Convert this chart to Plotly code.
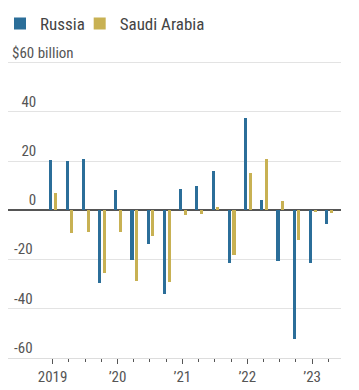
import plotly.graph_objects as go

quarters = ["2019 Q1", "2019 Q2", "2019 Q3", "2019 Q4",
            "2020 Q1", "2020 Q2", "2020 Q3", "2020 Q4",
            "2021 Q1", "2021 Q2", "2021 Q3", "2021 Q4",
            "2022 Q1", "2022 Q2", "2022 Q3", "2022 Q4",
            "2023 Q1", "2023 Q2"]
russia = [20.5, 20.0, 20.9, -29.5, 8.3, -20.3, -13.8, -33.9,
          8.8, 9.8, 16.0, -21.4, 37.5, 4.1, -20.5, -52.2, -21.3, -5.4]
saudi = [7.2, -9.1, -8.7, -25.3, -8.9, -28.6, -10.6, -29.0,
         -1.8, -1.5, 1.5, -18.0, 15.2, 20.7, 3.7, -12.1, -0.8, -1.0]
year_tick_labels = ["2019", "’20", "’21", "’22", "’23"]
y_tick_values = [-60, -40, -20, 0, 20, 40, 60]
y_tick_labels = ["-60", "-40", "-20", "\u2007\u20070", "\u200720", "\u200740", ""]
y_top_label = "$60 billion"

x = list(range(len(quarters)))
year_ticks = [i for i, q in enumerate(quarters) if q.endswith("Q1")]
minor_ticks = sorted(set(x) - set(year_ticks))

FONT = "Liberation Sans Narrow, Arial Narrow, Roboto Condensed, DejaVu Sans Condensed, sans-serif"
BLUE = "#2b6e99"
GOLD = "#c8b153"

fig = go.Figure()
fig.add_trace(go.Bar(x=x, y=russia, name="Russia", marker_color=BLUE,
                     marker_line_width=0, width=0.19, offset=-0.2,
                     legend="legend"))
fig.add_trace(go.Bar(x=x, y=saudi, name="Saudi Arabia", marker_color=GOLD,
                     marker_line_width=0, width=0.19, offset=0.09,
                     legend="legend2"))

fig.add_annotation(text=y_top_label, xref="paper", x=0.005, xanchor="left",
                   yref="y", y=y_tick_values[-1], yanchor="bottom", yshift=-1,
                   showarrow=False, font=dict(size=15, color="#555555"))

legend_common = dict(orientation="h", xref="container", yref="container",
                     xanchor="left", y=0.985, yanchor="top",
                     font=dict(size=17, color="#444444"), itemclick=False,
                     bgcolor="rgba(0,0,0,0)")

fig.update_layout(
    width=359, height=390,
    margin=dict(l=8, r=18, t=43, b=32, autoexpand=False),
    paper_bgcolor="white", plot_bgcolor="white",
    font=dict(family=FONT, color="#555555", size=15),
    showlegend=True,
    legend=dict(x=0.0, **legend_common),
    legend2=dict(x=0.222, **legend_common),
    bargap=0,
)
fig.update_xaxes(
    range=[-2.75, 17.78], automargin=False,
    tickmode="array", tickvals=year_ticks, ticktext=year_tick_labels,
    ticks="outside", ticklen=5, tickcolor="#555555", tickwidth=1,
    minor=dict(tickmode="array", tickvals=minor_ticks, ticks="outside",
               ticklen=3, tickcolor="#555555", tickwidth=1),
    showline=True, linecolor="#dddddd", linewidth=1,
    showgrid=False, zeroline=False,
    tickfont=dict(size=15, color="#555555"),
)
fig.update_yaxes(
    range=[-60, 68], automargin=False,
    tickmode="array", tickvals=y_tick_values, ticktext=y_tick_labels,
    ticklabelposition="inside top", ticks="", ticklabelstandoff=3,
    showgrid=True, gridcolor="#e3e3e3", gridwidth=1,
    zeroline=True, zerolinecolor="#555555", zerolinewidth=1.5,
    showline=False,
    tickfont=dict(size=15, color="#555555"),
)

fig.write_html("out.html", config={"displayModeBar": False},
               post_script="document.body.style.margin='0';document.body.style.padding='0';")
